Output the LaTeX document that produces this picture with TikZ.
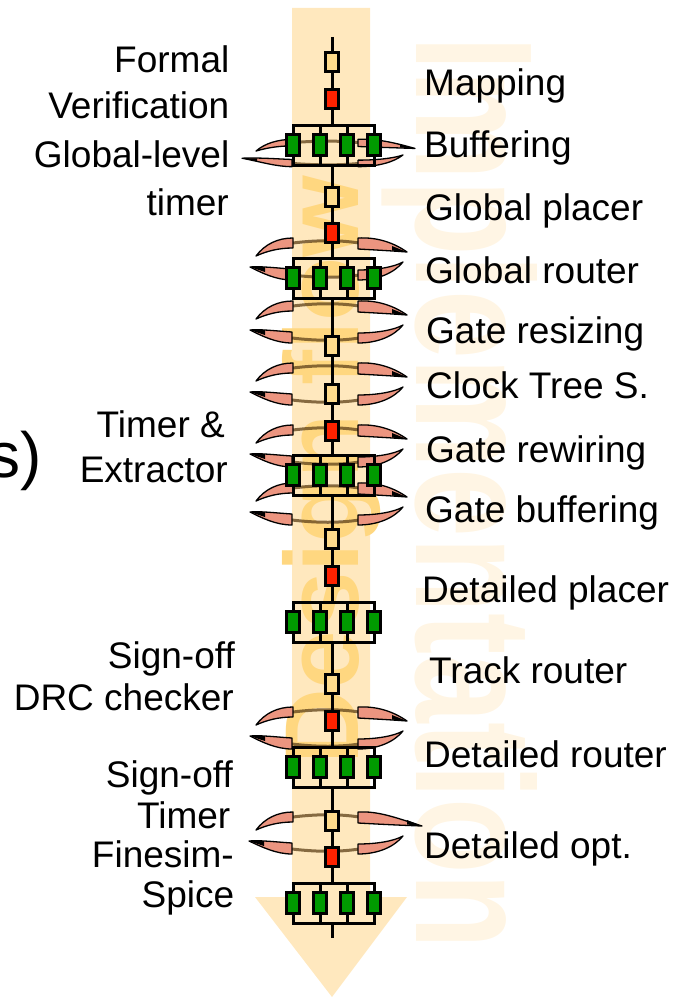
\documentclass[tikz,border=0pt]{standalone}
\usepackage{fontspec}
\setmainfont{Liberation Sans}
\usepackage{graphicx}
\definecolor{arrowc}{HTML}{FFE8BE}
\definecolor{implc}{HTML}{FFF5E4}
\definecolor{designc}{HTML}{FFD780}
\definecolor{yboxc}{HTML}{FFDB8C}
\definecolor{rboxc}{HTML}{FF2200}
\definecolor{gboxc}{HTML}{009A00}
\definecolor{hornc}{HTML}{EC9580}
\definecolor{arcc}{HTML}{5E4118}

% four green resistors in parallel between two rails
\newcommand\resbank[2]{%
  \coordinate (#1-top) at (332,#2);
  \coordinate (#1-bot) at (332,{#2+40});
  \draw[wire] (293,#2) rectangle (374,{#2+40});
  \draw[wire] (320,#2) -- (320,{#2+40});
  \draw[wire] (347,#2) -- (347,{#2+40});
  \node[gbox] (#1-1) at (293,{#2+20}) {};
  \node[gbox] (#1-2) at (320,{#2+20}) {};
  \node[gbox] (#1-3) at (347,{#2+20}) {};
  \node[gbox] (#1-4) at (374,{#2+20}) {};
}

% a pair of circular arrows around the chain
% #1 name, #2 centre y, #3 right tip offset, #4 left tip offset, #5 vertical scale
\newcommand\rotloop[5]{%
  \begin{scope}[shift={(332,#2)}, yscale=#5]
    \coordinate (#1) at (0,0);
    \draw[loopline] (-39,-16) .. controls (-15,-19) and (8,-19) .. (27,-16);
    \draw[loopline] (-40,16) .. controls (-15,19) and (8,19) .. (27,16);
    % upper-left tail
    \filldraw[horn] (-76,-3) .. controls (-67,-15) and (-54,-21) .. (-39,-21)
      -- (-39,-11) .. controls (-53,-11) and (-65,-8) .. (-76,-3) -- cycle;
    % upper-right head
    \filldraw[horn] (26,-21) .. controls (46,-22) and (62,-16) .. (#3,-7)
      .. controls (62,-8) and (44,-9) .. (26,-10) -- cycle;
    \fill (#3,-7) -- ({#3-15},-13) -- ({#3-15},-8.5) -- cycle;
    % lower-left head
    \filldraw[horn] (-40,10) .. controls (-56,9) and (-72,7) .. (#4,8)
      .. controls (-70,14) and (-56,21) .. (-40,21) -- cycle;
    \fill (#4,8) -- ({#4+15},8.2) -- ({#4+15},13) -- cycle;
    % lower-right tail
    \filldraw[horn] (26,21) .. controls (46,21) and (62,14) .. (71,3)
      .. controls (62,8) and (45,11) .. (26,11) -- cycle;
  \end{scope}
}

\begin{document}
\begin{tikzpicture}[x=1pt, y=-1pt,
  wire/.style={draw=black, line width=3pt},
  ybox/.style={draw=black, line width=3pt, fill=yboxc, minimum width=12.5pt,
    minimum height=18.5pt, inner sep=0pt},
  rbox/.style={ybox, fill=rboxc},
  gbox/.style={draw=black, line width=3pt, fill=gboxc, minimum width=12.5pt,
    minimum height=21.5pt, inner sep=0pt},
  horn/.style={fill=hornc, draw=black, line width=1.3pt, line join=round},
  loopline/.style={draw=arcc, opacity=0.75, line width=3pt},
  lab/.style={font=\fontsize{37}{40}\selectfont, inner sep=0pt},
  labl/.style={lab, anchor=base east},
  labr/.style={lab, anchor=base west}]

\useasboundingbox (0,0) rectangle (688,998);

% big downward flow arrow
\fill[arrowc] (292,8) -- (370,8) -- (370,897) -- (407,897) -- (332,997)
  -- (255,897) -- (292,897) -- cycle;

% background captions
\node[rotate=-90, anchor=base west, inner sep=0pt, text=implc,
  font=\fontsize{167}{167}\selectfont\bfseries] (impl) at (416,36)
  {\scalebox{0.74}[1]{Implementation}};
\node[rotate=90, anchor=base west, inner sep=0pt, text=designc,
  font=\fontsize{105}{105}\selectfont\bfseries] (design) at (358,765)
  {Design flow};

% circular arrows
\rotloop{l1}{153}{83}{-90}{0.65}
\rotloop{l2}{259}{75}{-82}{1}
\rotloop{l3}{322}{75}{-82}{1}
\rotloop{l4}{384}{75}{-82}{1}
\rotloop{l5}{446}{75}{-82}{1}
\rotloop{l6}{504}{75}{-82}{1}
\rotloop{l7}{728}{75}{-82}{1}
\rotloop{l8}{833}{90}{-83}{1}

% chain elements
\coordinate (start) at (332,37);
\coordinate (end) at (332,938);
\node[ybox] (y1) at (332,62) {};
\node[rbox] (r1) at (332,99) {};
\node[ybox] (y2) at (332,197) {};
\node[rbox] (r2) at (332,233) {};
\node[ybox] (y3) at (332,346) {};
\node[ybox] (y4) at (332,394) {};
\node[rbox] (r3) at (332,431) {};
\node[ybox] (y5) at (332,539) {};
\node[rbox] (r4) at (332,576) {};
\node[ybox] (y6) at (332,684) {};
\node[rbox] (r5) at (332,721) {};
\node[ybox] (y7) at (332,821) {};
\node[rbox] (r6) at (332,857) {};

\resbank{g1}{125}
\resbank{g2}{258}
\resbank{g3}{455}
\resbank{g4}{602}
\resbank{g5}{747}
\resbank{g6}{883}

\draw[wire] (start) -- (y1);
\draw[wire] (y1) -- (r1);
\draw[wire] (r1) -- (g1-top);
\draw[wire] (g1-bot) -- (y2);
\draw[wire] (y2) -- (r2);
\draw[wire] (r2) -- (g2-top);
\draw[wire] (g2-bot) -- (y3);
\draw[wire] (y3) -- (y4);
\draw[wire] (y4) -- (r3);
\draw[wire] (r3) -- (g3-top);
\draw[wire] (g3-bot) -- (y5);
\draw[wire] (y5) -- (r4);
\draw[wire] (r4) -- (g4-top);
\draw[wire] (g4-bot) -- (y6);
\draw[wire] (y6) -- (r5);
\draw[wire] (r5) -- (g5-top);
\draw[wire] (g5-bot) -- (y7);
\draw[wire] (y7) -- (r6);
\draw[wire] (r6) -- (g6-top);
\draw[wire] (g6-bot) -- (end);

% step names
\node[labr] (t-map) at (424,95) {Mapping};
\node[labr] (t-buf) at (424,157) {Buffering};
\node[labr] (t-gpl) at (425,220) {Global placer};
\node[labr] (t-grt) at (425,283) {Global router};
\node[labr] (t-grs) at (426,343) {Gate resizing};
\node[labr] (t-cts) at (426,398) {Clock Tree S.};
\node[labr] (t-grw) at (426,462) {Gate rewiring};
\node[labr] (t-gbf) at (425,522) {Gate buffering};
\node[labr] (t-dpl) at (422,602) {Detailed placer};
\node[labr] (t-trk) at (429,683) {Track router};
\node[labr] (t-drt) at (424,767) {Detailed router};
\node[labr] (t-dop) at (424,858) {Detailed opt.};

% tools
\node[labl] (s-fv1) at (229.5,73) {Formal};
\node[labl] (s-fv2) at (229.5,118) {Verification};
\node[labl] (s-gt1) at (229.5,167) {Global-level};
\node[labl] (s-gt2) at (229,215) {timer};
\node[labl] (s-te1) at (225,437) {Timer \&};
\node[labl] (s-te2) at (228,482) {Extractor};
\node[labl] (s-dr1) at (235,668) {Sign-off};
\node[labl] (s-dr2) at (234,710) {DRC checker};
\node[labl] (s-st1) at (233,787) {Sign-off};
\node[labl] (s-st2) at (230.5,828) {Timer};
\node[labl] (s-st3) at (234,867) {Finesim-};
\node[labl] (s-st4) at (234.5,907) {Spice};

\node[anchor=base east, inner sep=0pt, font=\fontsize{64}{64}\selectfont]
  (s-cut) at (42,477) {s)};
\end{tikzpicture}
\end{document}
